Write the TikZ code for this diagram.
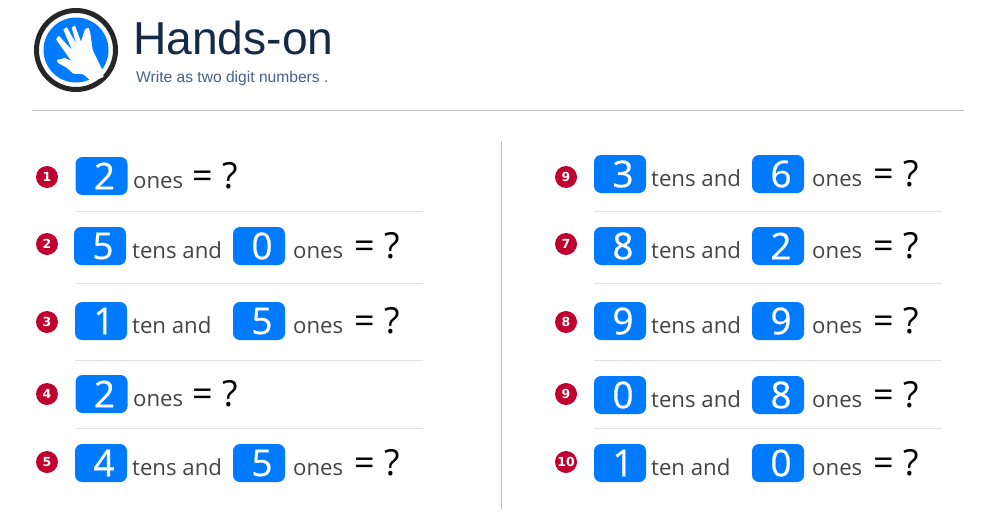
\documentclass[tikz,border=0pt]{standalone}
\usepackage{fontspec}
\setmainfont{Open Sans}
\newfontfamily\headfont{Liberation Sans}
\newfontfamily\badgefont{DejaVu Sans}
\newfontfamily\digitfont[FakeBold=0.5]{Open Sans}
\usepackage{xcolor}
\definecolor{btnblue}{HTML}{007BFF}
\definecolor{badgered}{HTML}{C0002F}
\definecolor{wordgray}{HTML}{444444}
\definecolor{titlenavy}{HTML}{152B45}
\definecolor{subblue}{HTML}{44628C}
\tikzset{
  digitbox/.style={fill=btnblue, rounded corners=7pt, minimum width=52pt, minimum height=38pt, inner sep=0pt, text=white, font=\digitfont\fontsize{37}{37}\selectfont, execute at begin node=\hspace*{6pt}},
  badge/.style={circle, fill=badgered, minimum size=22pt, inner sep=0pt, text=white, font=\badgefont\fontsize{12.5}{12.5}\selectfont\bfseries},
  word/.style={anchor=base west, inner sep=0pt, text=wordgray, font=\fontsize{22.2}{22.2}\selectfont},
  query/.style={anchor=base west, inner sep=0pt, text=black, font=\fontsize{36}{36}\selectfont},
  rowrule/.style={draw=black!12, line width=1pt},
}
\begin{document}
\begin{tikzpicture}[x=1pt, y=-1pt]
  \useasboundingbox[fill=white] (0,0) rectangle (1001,525);

  % Header
  \draw[line width=5pt, draw=black!85] (76,50) circle (39.5);
  \fill[btnblue] (76,50) circle (32.5);
  \begin{scope}[shift={(30,5)}, x=0.3333pt, y=-0.3333pt]
    \fill[white, rounded corners=0.6pt] (80,165) -- (105,159) -- (124,168) -- (78,103) -- (86,92) -- (126,135)
      -- (100,74) -- (110,66) -- (138,115) -- (125,67) -- (135,62) -- (153,110) -- (165,72) -- (176,68)
      -- (181,85) -- (188,135) -- (217,195) -- (221,216) -- (200,224) -- (183,228) -- (160,208) -- (130,206)
      -- (110,188) -- (84,174) -- cycle;
  \end{scope}
  \node[anchor=base west, inner sep=0pt, text=titlenavy, font=\headfont\fontsize{46.2}{46.2}\selectfont] (title) at (133,54) {Hands-on};
  \node[anchor=base west, inner sep=0pt, text=subblue, font=\headfont\fontsize{15.6}{15.6}\selectfont] (subtitle) at (136,82) {Write as two digit numbers .};
  \draw[draw=black!25, line width=1pt] (32,110.5) -- (964,110.5);
  \draw[draw=black!25, line width=1pt] (501,141) -- (501,509);
  \foreach \ypos in {211,283,360,428} {
    \draw[rowrule] (75,\ypos) -- (423,\ypos);
    \draw[rowrule] (594,\ypos) -- (942,\ypos);
  }

  % Left column
  \node[badge] (b1) at (47,177) {1};
  \node[digitbox] (d1) at (101.5,176) {2};
  \node[word] (w1) at (133,188) {ones};
  \node[query] (q1) at (192,188) {= ?};

  \node[badge] (b2) at (47,244) {2};
  \node[digitbox] (d2) at (100,246) {5};
  \node[word] (t2) at (132,258) {tens and};
  \node[digitbox] (e2) at (259,246) {0};
  \node[word] (w2) at (293,258) {ones};
  \node[query] (q2) at (354,258) {= ?};

  \node[badge] (b3) at (47,322) {3};
  \node[digitbox] (d3) at (101,321) {1};
  \node[word] (t3) at (132,333) {ten and};
  \node[digitbox] (e3) at (259,321) {5};
  \node[word] (w3) at (293,333) {ones};
  \node[query] (q3) at (354,333) {= ?};

  \node[badge] (b4) at (47,394) {4};
  \node[digitbox] (d4) at (101.5,394) {2};
  \node[word] (w4) at (133,406) {ones};
  \node[query] (q4) at (192,406) {= ?};

  \node[badge] (b5) at (47,462) {5};
  \node[digitbox] (d5) at (101,463) {4};
  \node[word] (t5) at (132,475) {tens and};
  \node[digitbox] (e5) at (259,463) {5};
  \node[word] (w5) at (293,475) {ones};
  \node[query] (q5) at (354,475) {= ?};

  % Right column
  \node[badge] (b6) at (566,177) {9};
  \node[digitbox] (d6) at (620,174) {3};
  \node[word] (t6) at (651,186) {tens and};
  \node[digitbox] (e6) at (778,174) {6};
  \node[word] (w6) at (812,186) {ones};
  \node[query] (q6) at (873,186) {= ?};

  \node[badge] (b7) at (566,244) {7};
  \node[digitbox] (d7) at (620,246) {8};
  \node[word] (t7) at (651,258) {tens and};
  \node[digitbox] (e7) at (778,246) {2};
  \node[word] (w7) at (812,258) {ones};
  \node[query] (q7) at (873,258) {= ?};

  \node[badge] (b8) at (566,322) {8};
  \node[digitbox] (d8) at (620,321) {9};
  \node[word] (t8) at (651,333) {tens and};
  \node[digitbox] (e8) at (778,321) {9};
  \node[word] (w8) at (812,333) {ones};
  \node[query] (q8) at (873,333) {= ?};

  \node[badge] (b9) at (566,394) {9};
  \node[digitbox] (d9) at (620,395) {0};
  \node[word] (t9) at (651,407) {tens and};
  \node[digitbox] (e9) at (778,395) {8};
  \node[word] (w9) at (812,407) {ones};
  \node[query] (q9) at (873,407) {= ?};

  \node[badge] (b10) at (566,462) {10};
  \node[digitbox] (d10) at (620,463) {1};
  \node[word] (t10) at (651,475) {ten and};
  \node[digitbox] (e10) at (778,463) {0};
  \node[word] (w10) at (812,475) {ones};
  \node[query] (q10) at (873,475) {= ?};
\end{tikzpicture}
\end{document}
